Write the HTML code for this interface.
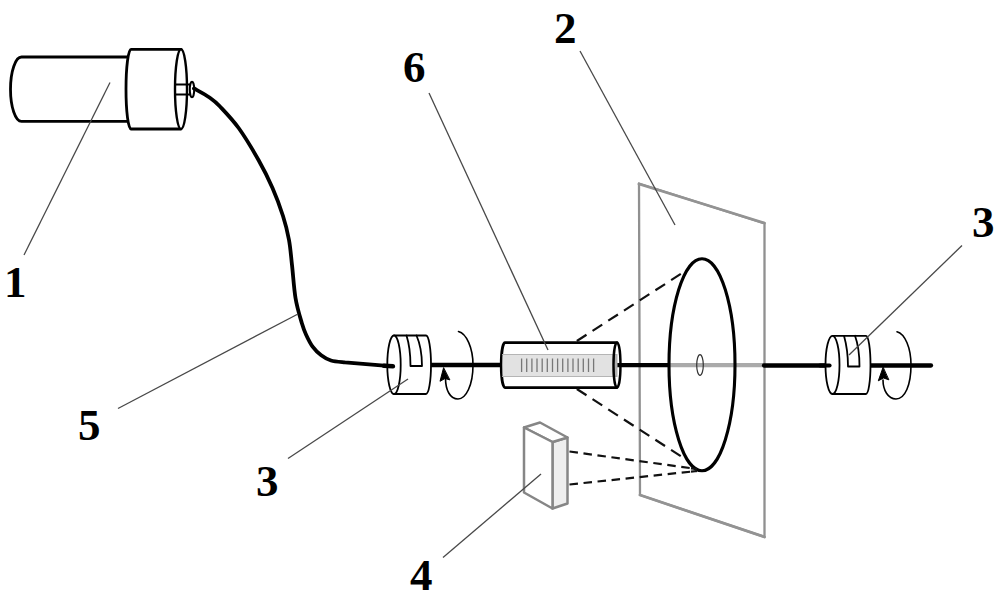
<!DOCTYPE html>
<html><head><meta charset="utf-8"><style>
html,body{margin:0;padding:0;background:#fff;width:1000px;height:604px;overflow:hidden}
svg{display:block}
text{font-family:"Liberation Serif",serif;font-weight:bold;font-size:45px;fill:#000}
</style></head><body>
<svg width="1000" height="604" viewBox="0 0 1000 604">
<defs><filter id="bl" x="-20%" y="-20%" width="140%" height="140%"><feGaussianBlur stdDeviation="0.6"/></filter></defs>
<g fill="none" stroke="#000" stroke-linecap="round" stroke-linejoin="round">
  <!-- laser body (1) -->
  <path d="M128,57 L21.5,57 A11,32.2 0 0 0 21.5,121.4 L128,121.4" stroke-width="2.8"/>
  <!-- cap -->
  <path d="M181,49.3 L131,49.3 A5,39.85 0 0 0 131,129 L181,129" fill="#fff" stroke-width="2.8"/>
  <ellipse cx="181" cy="89.15" rx="6" ry="39.85" stroke-width="2.4" fill="#fff"/>
  <!-- connector tube -->
  <path d="M175,84.5 L190,84.5 M175,94.5 L190,94.5" stroke-width="2"/>
  <ellipse cx="192" cy="89.5" rx="2.2" ry="7.8" stroke-width="2" fill="#fff"/>
  <!-- fibre cable (5) -->
  <path d="M194,88.5 C196.6,90.0 205.2,94.5 209.5,97.5 C213.8,100.5 215.1,101.3 220,106.5 C224.9,111.7 232.6,119.6 239,128.5 C245.4,137.4 252.9,150.1 258.5,160 C264.1,169.9 268.4,178.7 272.5,188 C276.6,197.3 280.2,207.3 283,216 C285.8,224.7 287.5,231.8 289,240 C290.5,248.2 290.9,255.3 292,265 C293.1,274.7 293.9,288.3 295.5,298 C297.1,307.7 300.0,316.9 301.8,323 C303.6,329.1 304.3,330.8 306.1,334.7 C307.9,338.6 310.1,343.2 312.6,346.6 C315.1,350.0 318.1,352.9 321.2,355.2 C324.3,357.5 327.0,359.3 331,360.5 C335.0,361.7 342.7,362.0 345,362.3 L393,366.3" stroke-width="3.8"/>

  <!-- plate (2) -->
  <path d="M639,183.5 L764.5,223.5 L764.5,537 L640,495 Z" stroke="#909090" stroke-width="2.3"/>
  <path d="M639,184 L764.5,223 M640,495 L764.5,537" stroke="#939393" stroke-width="2.8"/>

  <!-- shaft segments -->
  <path d="M431,365 L500,365" stroke-width="4.3"/>
  <path d="M617,365.2 L669,365.2" stroke-width="4.3"/>
  <path d="M669,365.2 L764,365.2" stroke="#aaa" stroke-width="4.2" stroke-linecap="butt"/>
  <path d="M764,365.5 L829,365.5" stroke-width="4.3"/>
  <path d="M870,365.5 L931,365.5" stroke-width="4.3"/>

  <!-- disc -->
  <ellipse cx="702" cy="364.75" rx="33" ry="106" stroke-width="3.1"/>
  <ellipse cx="700" cy="365" rx="3.3" ry="10.3" stroke="#333" stroke-width="1.2"/>

  <!-- rod (6) -->
  <path d="M617,342.6 L505,342.6 A3.8,22.5 0 0 0 505,387.6 L617,387.6" fill="#fff" stroke-width="2.7"/>
  <rect x="502.5" y="354.5" width="112" height="22.5" fill="#e2e2e2" stroke="none"/>
  <path d="M502.5,354.5 L614,354.5 M502.5,376.5 L614,376.5" stroke="#b5b5b5" stroke-width="1.2"/>
  <rect x="612.5" y="354" width="5" height="23" fill="#b0b0b0" stroke="none"/>
  <ellipse cx="617" cy="365.1" rx="3.5" ry="22.5" stroke-width="2.4"/>
  <g stroke="#777" stroke-width="1.3" stroke-linecap="butt"><path d="M521.6,358.5 L521.6,372"/><path d="M526.7,358.5 L526.7,372"/><path d="M531.9,358.5 L531.9,372"/><path d="M537.0,358.5 L537.0,372"/><path d="M542.2,358.5 L542.2,372"/><path d="M547.3,358.5 L547.3,372"/><path d="M552.5,358.5 L552.5,372"/><path d="M557.6,358.5 L557.6,372"/><path d="M562.7,358.5 L562.7,372"/><path d="M567.9,358.5 L567.9,372"/><path d="M573.0,358.5 L573.0,372"/><path d="M578.2,358.5 L578.2,372"/><path d="M583.3,358.5 L583.3,372"/><path d="M588.5,358.5 L588.5,372"/><path d="M593.6,358.5 L593.6,372"/></g>

  <!-- left coupling (3) -->
  <path d="M394,335.5 L426,335.5 A5,29.25 0 0 1 426,394 L394,394" fill="#fff" stroke-width="1.8"/>
  <ellipse cx="394" cy="364.75" rx="6.7" ry="29.25" fill="#fff" stroke-width="1.8"/>
  <path d="M406.5,335.5 Q410.5,348 410.5,366 L422,366 Q422,348 416.5,335.5" stroke-width="1.8"/>
  <path d="M384,365.8 L393,366.3" stroke-width="4.4"/>
  <!-- left rotation arrow -->
  <path d="M458.5,331.5 C466.5,333.5 473,348 473,365 C473,385 466,399 458,399 C450,399 445.5,390 445.5,378" stroke-width="1.6"/>
  <path d="M443.5,368 L440,381.3 L445,378.5 L449.5,379.8 Z" fill="#000" stroke-width="1"/>

  <!-- right coupling (3) -->
  <path d="M832.5,335.8 L866,335.8 A4.5,29.1 0 0 1 866,394 L832.5,394" fill="#fff" stroke-width="1.8"/>
  <ellipse cx="832.5" cy="364.9" rx="7" ry="29.1" fill="#fff" stroke-width="1.8"/>
  <path d="M844,335.8 Q848,350 848,366.5 L859.5,366.5 Q859.5,348 855,335.8" stroke-width="1.8"/>
  <path d="M820,365.5 L829.5,365.5" stroke-width="4.2"/>
  <!-- right rotation arrow -->
  <path d="M897,331.7 C905,333.7 911,348 911,365 C911,385 905,399 896,399 C888,399 883,390 883,380" stroke-width="1.6"/>
  <path d="M883,367.5 L878.3,380.8 L883.5,378 L888.5,379.7 Z" fill="#000" stroke-width="1"/>

  <!-- detector (4) -->
  <g filter="url(#bl)" stroke="#868686" stroke-width="2.5">
  <path d="M552.5,442 L567.5,437.5 L567.5,503.5 L552.5,508.5 Z" fill="#eeeeee"/>
  <path d="M524,427.5 L540,422.5 L567.5,437.5 L552.5,442 Z" fill="#fff"/>
  <path d="M524,427.5 L552.5,442 L552.5,508.5 L524,492.5 Z" fill="#fff"/>
  </g>

  <!-- dashed rays -->
  <g stroke-width="2.2" stroke-linecap="butt" stroke="#111">
    <path d="M576,341.5 L683,272.5" stroke-dasharray="11.5 7.2" stroke-dashoffset="-1"/>
    <path d="M576,388.5 L682,457" stroke-dasharray="11.5 7.2" stroke-dashoffset="-1"/>
    <path d="M569.5,451.5 L697,469" stroke-dasharray="8.5 5.6"/>
    <path d="M569.5,484.5 L697,471" stroke-dasharray="8.5 5.6"/>
    <path d="M691,468.3 L697,469 M691,471.7 L697,471"/>
  </g>

  <!-- leader lines -->
  <g stroke="#484848" stroke-width="1.3" stroke-linecap="butt">
    <path d="M110,82.5 L24,255"/>
    <path d="M298,314 L118,408.5"/>
    <path d="M408,379 L288,458.5"/>
    <path d="M429,93 L548,350"/>
    <path d="M580,51 L675,225"/>
    <path d="M962,245.5 L849,355"/>
    <path d="M541,474 L443,557.5"/>
  </g>
</g>
<text x="4" y="297">1</text>
<text x="78" y="439.5">5</text>
<text x="256" y="495.5">3</text>
<text x="403" y="81.5">6</text>
<text x="554" y="43">2</text>
<text x="972" y="236.5">3</text>
<text x="410" y="590">4</text>
</svg>
</body></html>
